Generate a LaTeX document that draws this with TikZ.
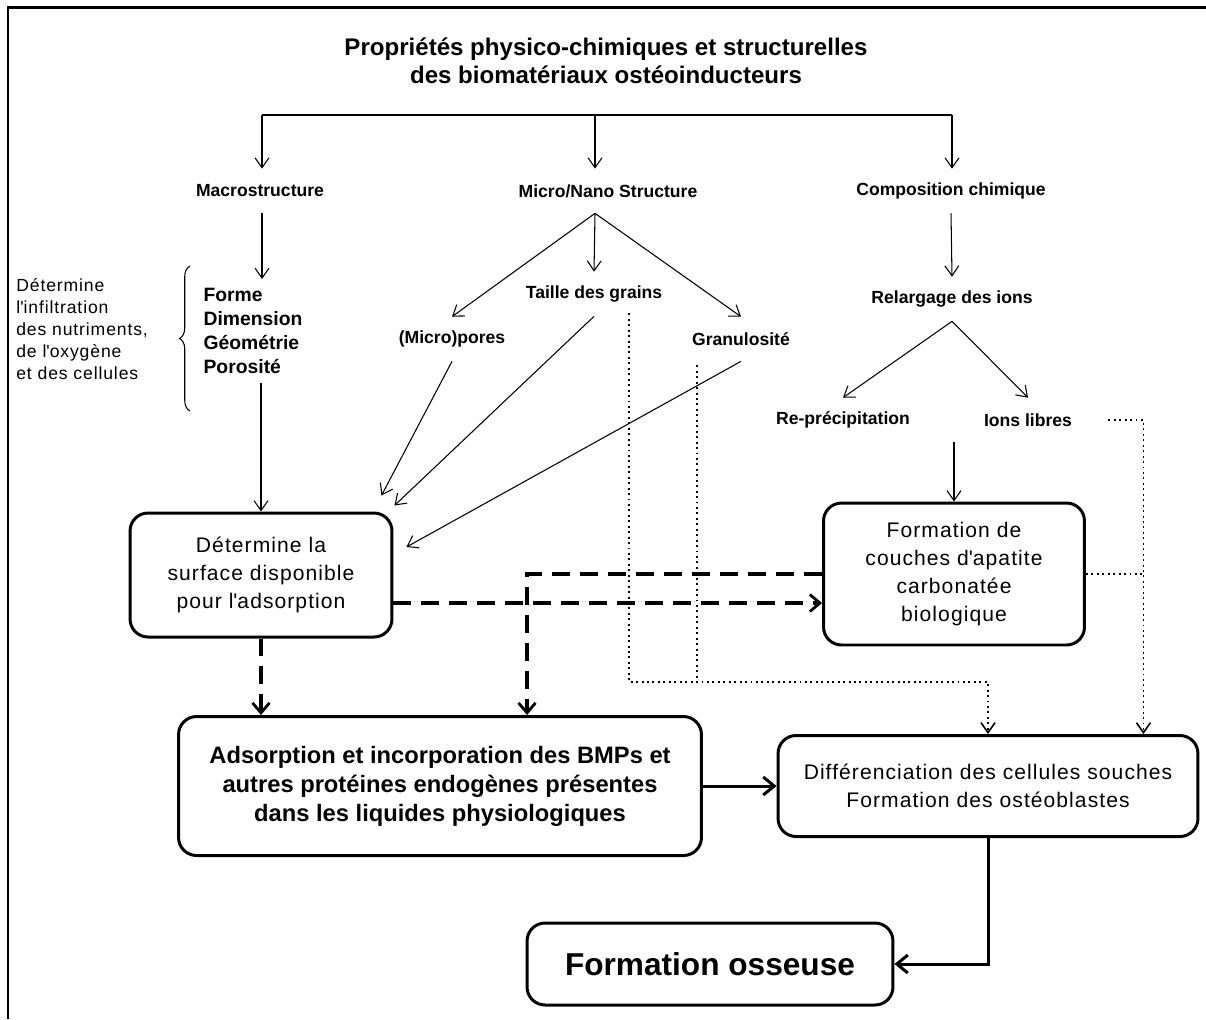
\documentclass[tikz,border=0pt]{standalone}
\usepackage{fontspec}
\setmainfont{Liberation Sans}
\newfontfamily\spacedfont{Liberation Sans}[LetterSpace=5]
\newcommand{\apos}{\textquotesingle}
\usetikzlibrary{arrows.meta, positioning, calc, decorations.pathreplacing}

\begin{document}
\begin{tikzpicture}[
    x=0.02cm, y=-0.02cm,
    heading/.style={font=\fontsize{13.7}{16}\selectfont\bfseries, align=center},
    lbl/.style={font=\fontsize{10}{12}\selectfont\bfseries, inner sep=0pt, minimum height=0.88cm},
    box/.style={rectangle, rounded corners=0.36cm, draw=black, line width=1.7pt, align=center, font=\spacedfont\fontsize{12}{15.8}\selectfont},
    thin/.style={line width=0.6pt},
    arr/.style={-{Straight Barb[length=2mm, width=2.8mm]}, line width=0.6pt},
    dasharr/.style={-{Straight Barb[length=2mm, width=3.4mm, line width=1.6pt]}, line width=2.2pt, dash pattern=on 0.36cm off 0.2cm},
    dotline/.style={line width=1.1pt, dotted},
    dotarr/.style={dotline, -{Straight Barb[length=2mm, width=2.8mm, line width=0.9pt]}},
    boldarr/.style={-{Straight Barb[length=2.2mm, width=3.6mm]}, line width=1.7pt}
]
\useasboundingbox (0,0) rectangle (1206,1019);

% Frame
\draw[line width=1.7pt] (8,1019) -- (8,7) -- (1206,7);

% Title and first branching
\node[heading] (title) at (606,61) {Propriétés physico-chimiques et structurelles\\des biomatériaux ostéoinducteurs};
\coordinate (barL) at (262,115);
\coordinate (barM) at (595,115);
\coordinate (barR) at (952,115);

\node[lbl] (macro) at (260,191) {Macrostructure};
\node[lbl] (micro) at (608,191) {Micro/Nano Structure};
\node[lbl] (compo) at (951,191) {Composition chimique};

\draw[thin] (barL) -- (barR);
\foreach \c/\n in {barL/macro, barM/micro, barR/compo}
    \draw[arr] (\c) -- (\c |- \n.north);

% Macrostructure
\node[font=\fontsize{11}{13.7}\selectfont\bfseries, align=left, inner xsep=0pt, inner ysep=5pt] (lst) at (253,331) {Forme\\Dimension\\Géométrie\\Porosité};
\node[font=\spacedfont\fontsize{10}{12.5}\selectfont, align=left, anchor=west, inner sep=0pt] (side) at (16,329) {Détermine\\l\apos infiltration\\des nutriments,\\de l\apos oxygène\\et des cellules};
\draw[thin, decorate, decoration={brace, amplitude=6pt}] (190,411) -- (190,266);
\draw[arr] (barL |- macro.south) -- (barL |- lst.north);

% Micro/Nano structure
\node[lbl] (taille) at (594,294) {Taille des grains};
\node[lbl] (pores) at (452,339) {(Micro)pores};
\node[lbl] (granu) at (741,339) {Granulosité};
\foreach \n in {pores, taille, granu}
    \draw[arr] (barM |- micro.south) -- (\n.north);

% Composition chimique
\node[lbl] (relarg) at (952,299) {Relargage des ions};
\node[lbl] (reprec) at (843,420) {Re-précipitation};
\node[lbl] (ions) at (1028,420) {Ions libres};
\draw[arr] (compo.south) -- (relarg.north);
\draw[arr] (relarg.south) -- (reprec.north);
\draw[arr] (relarg.south) -- (ions.north);

% Boxes
\node[box, minimum width=5.24cm, minimum height=2.48cm] (surf) at (261,575) {Détermine la\\surface disponible\\pour l\apos adsorption};
\node[box, minimum width=5.22cm, minimum height=2.84cm] (apat) at (954,574) {Formation de\\couches d\apos apatite\\carbonatée\\biologique};
\node[box, font=\fontsize{13.5}{16.5}\selectfont\bfseries, minimum width=10.46cm, minimum height=2.78cm] (ads) at (440,786) {Adsorption et incorporation des BMPs et\\autres protéines endogènes présentes\\dans les liquides physiologiques};
\node[box, minimum width=8.4cm, minimum height=2.02cm] (diff) at (988,786) {Différenciation des cellules souches\\Formation des ostéoblastes};
\node[box, font=\fontsize{18}{21}\selectfont\bfseries, minimum width=7.32cm, minimum height=1.64cm] (oss) at (710,964) {Formation osseuse};

% Thin arrows into the boxes
\draw[arr] (lst.south -| surf.north) -- (surf.north);
\draw[arr] (pores.south) -- ([shift={(-12,-16)}]surf.north east);
\draw[arr] (taille.south) -- ([shift={(1,-6)}]surf.north east);
\draw[arr] (granu.south) -- ([shift={(13,-28)}]surf.east);
\draw[arr] (apat.north |- ions.south) -- (apat.north);

% Dotted connections
\coordinate (dj) at ([shift={(0,-52)}]diff.north);
\coordinate (tdot) at ([shift={(35,-3)}]taille.south);
\coordinate (gdot) at ([shift={(-44,4)}]granu.south);
\coordinate (ir) at ([shift={(-56,0)}]diff.north east);
\coordinate (idot) at ([shift={(36,0)}]ions.east);
\draw[dotarr] (tdot) |- (dj) -- (diff.north);
\draw[dotline] (gdot) -- (gdot |- dj);
\draw[dotarr] (idot) -| (ir);
\draw[dotline] (apat.east) -- (apat.east -| ir);

% Dashed connections
\coordinate (dsurf) at ([shift={(0,28)}]surf.east);
\draw[dasharr] (dsurf) -- (dsurf -| apat.west);
\draw[dasharr] (apat.west) -| ([shift={(87,0)}]ads.north);
\draw[dasharr] (surf.south) -- (surf.south |- ads.north);

% Bold arrows
\draw[boldarr] (ads.east) -- (diff.west);
\draw[boldarr] (diff.south) |- (oss.east);

\end{tikzpicture}
\end{document}
